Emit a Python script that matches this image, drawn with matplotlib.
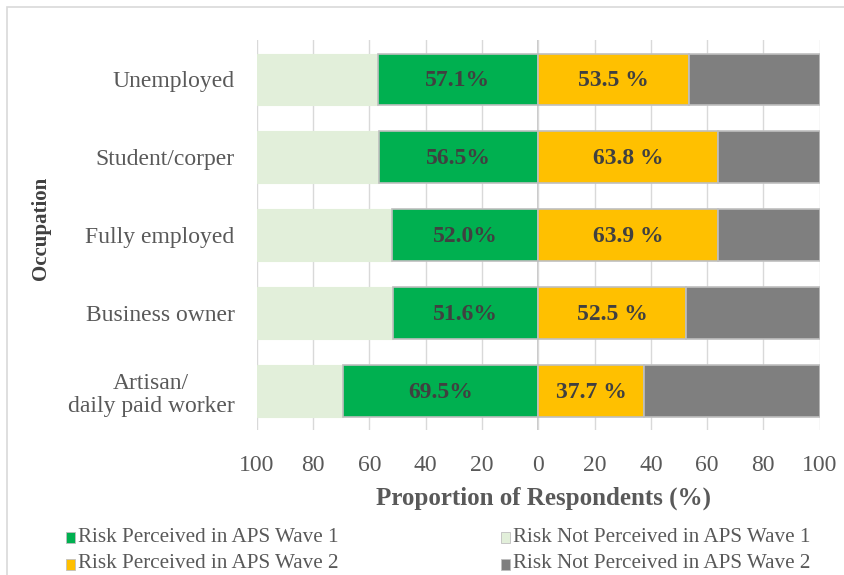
import matplotlib.pyplot as plt
import numpy as np
from matplotlib.patches import Rectangle

plt.rcParams['font.family'] = ['Liberation Serif', 'DejaVu Serif']

# occupations, listed from top to bottom
occupations = ['Unemployed', 'Student/corper', 'Fully employed',
               'Business owner', 'Artisan/\ndaily paid worker']
wave1_perceived = [57.1, 56.5, 52.0, 51.6, 69.5]
wave2_perceived = [53.5, 63.8, 63.9, 52.5, 37.7]
wave1_labels = ['57.1%', '56.5%', '52.0%', '51.6%', '69.5%']
wave2_labels = ['53.5 %', '63.8 %', '63.9 %', '52.5 %', '37.7 %']
tick_vals = [-100, -80, -60, -40, -20, 0, 20, 40, 60, 80, 100]
tick_text = ['100', '80', '60', '40', '20', '0', '20', '40', '60', '80', '100']

w1 = np.array(wave1_perceived)
w2 = np.array(wave2_perceived)
w1_not = 100 - w1
w2_not = 100 - w2
y = np.arange(len(occupations))

fig = plt.figure(figsize=(8.45, 5.75), dpi=100)
ax = fig.add_axes([0.304, 0.252, 0.666, 0.678])

h = 0.66
edge = '#bfbfbf'
ax.barh(y, -w1_not, left=-w1, height=h, color='#e2efda', edgecolor='#e2efda', linewidth=0.8, zorder=2)
ax.barh(y, -w1, height=h, color='#00b050', edgecolor=edge, linewidth=1.2, zorder=2)
ax.barh(y, w2, height=h, color='#ffc000', edgecolor=edge, linewidth=1.2, zorder=2)
ax.barh(y, w2_not, left=w2, height=h, color='#7f7f7f', edgecolor=edge, linewidth=1.2, zorder=2)

for i in range(len(occupations)):
    ax.text(-w1[i] / 2, y[i] + 0.02, wave1_labels[i], ha='center', va='center',
            fontsize=17, fontweight='bold', color='#404040', zorder=3)
    ax.text(w2[i] / 2, y[i] + 0.02, wave2_labels[i], ha='center', va='center',
            fontsize=17, fontweight='bold', color='#404040', zorder=3)

ax.set_xlim(-100, 100)
ax.set_ylim(len(occupations) - 0.5, -0.5)
ax.set_xticks(tick_vals)
ax.set_xticklabels(tick_text)
ax.set_yticks(y)
ax.set_yticklabels(occupations)
ax.tick_params(axis='x', length=0, pad=18, labelsize=17, labelcolor='#595959')
ax.tick_params(axis='y', length=0, pad=16, labelsize=17, labelcolor='#595959')
for lab in ax.get_yticklabels():
    lab.set_multialignment('center')
    lab.set_linespacing(1.15)

ax.grid(axis='x', color='#d9d9d9', linewidth=1, zorder=0)
ax.axvline(0, color='#bfbfbf', linewidth=1.2, zorder=1)
for s in ax.spines.values():
    s.set_visible(False)

fig.text(543 / 845, 1 - 498 / 575, 'Proportion of Respondents (%)', ha='center', va='center',
         fontsize=18, fontweight='bold', color='#595959')
fig.text(41 / 845, 1 - 228 / 575, 'Occupation', rotation=90, ha='center', va='center',
         fontsize=15, fontweight='bold', color='#404040')

# legend entries drawn as square marker + text
legend_items = [
    (66, 537, '#00b050', 'Risk Perceived in APS Wave 1'),
    (501, 537, '#e2efda', 'Risk Not Perceived in APS Wave 1'),
    (66, 564, '#ffc000', 'Risk Perceived in APS Wave 2'),
    (501, 564, '#7f7f7f', 'Risk Not Perceived in APS Wave 2'),
]
for px, py, col, txt in legend_items:
    lx = px / 845
    ly = 1 - py / 575
    fig.patches.append(Rectangle((lx, ly - 6 / 575), 9 / 845, 11 / 575, transform=fig.transFigure,
                                 facecolor=col, edgecolor='#bfbfbf', linewidth=0.6))
    fig.text(lx + 12 / 845, ly, txt, ha='left', va='center', fontsize=15.2, color='#595959')

# chart area border
fig.patches.append(Rectangle((0.008, -0.1), 1.2, 1.088, transform=fig.transFigure,
                             facecolor='none', edgecolor='#d9d9d9', linewidth=1.2))

fig.savefig('out.png', dpi=100)
